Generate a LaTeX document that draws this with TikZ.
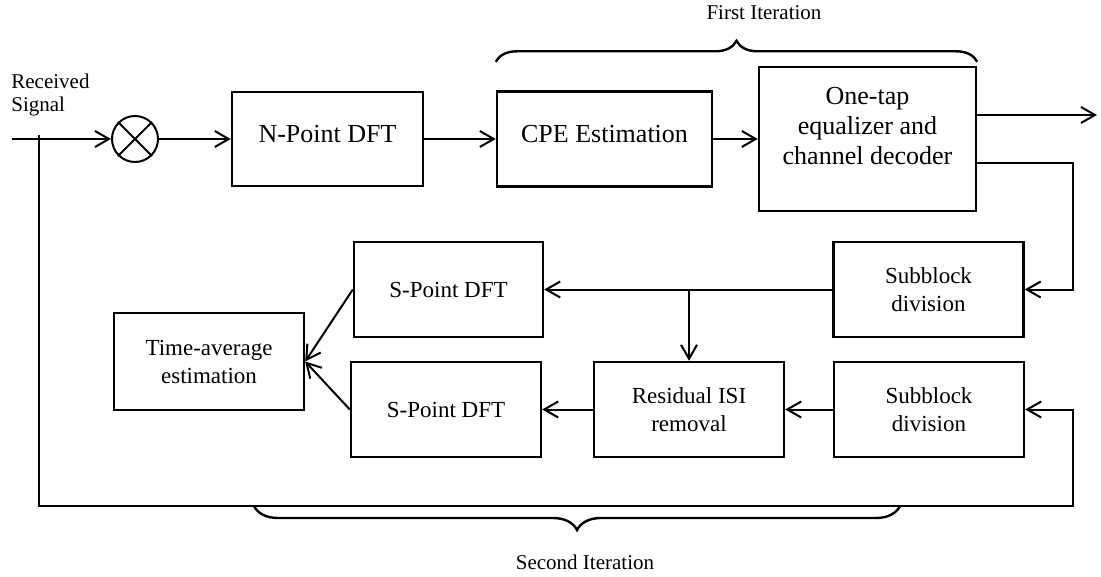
\documentclass[tikz,border=0pt]{standalone}
\usepackage{fontspec}
\setmainfont{Liberation Serif}
\usetikzlibrary{arrows.meta, positioning, calc, decorations.pathreplacing}
\newcommand{\mainfs}{\fontsize{13}{15}\selectfont}
\newcommand{\boxfs}{\fontsize{11.5}{14}\selectfont}
\newcommand{\labfs}{\fontsize{10.5}{11.5}\selectfont}

\begin{document}
\begin{tikzpicture}[x=0.5pt, y=-0.5pt,
    blk/.style={draw, line width=1.2pt, inner sep=0pt, align=center, font=\boxfs,
        minimum width=95pt, minimum height=47.5pt},
    topblk/.style={blk, font=\mainfs, text depth=5pt},
    link/.style={line width=1pt, -{Straight Barb[length=7pt,width=8pt]}},
    brc/.style={line width=1.2pt, decorate, decoration={brace, amplitude=#1}}]
    \useasboundingbox (0,0) rectangle (1101,577);

    % Forward path
    \node[draw, circle, line width=1pt, minimum size=23pt, inner sep=0pt] (mix) at (135,139) {};
    \draw[line width=1pt] (mix.north east) -- (mix.south west);
    \draw[line width=1pt] (mix.north west) -- (mix.south east);
    \node[topblk, minimum width=95.5pt, minimum height=47pt] (npt) at (327.5,139) {N-Point DFT};
    \node[topblk, minimum width=107.5pt] (cpe) at (604.5,139) {CPE Estimation};
    \node[topblk, minimum width=108.5pt, minimum height=72pt, text depth=13pt] (eq) at (867.5,139)
        {One-tap\\equalizer and\\channel decoder};

    % Second iteration blocks
    \node[blk] (sub1) at (928.5,289.5) {Subblock\\division};
    \node[blk] (sub2) at (929,409.5) {Subblock\\division};
    \node[blk, minimum width=94.5pt] (sdft1) at (448.5,289.5) {S-Point DFT};
    \node[blk] (sdft2) at (446,409.5) {S-Point DFT};
    \node[blk] (isi) at (689,409.5) {Residual ISI\\removal};
    \node[blk, minimum height=48.5pt] (tavg) at (209,361.5) {Time-average\\estimation};

    % Labels
    \node[anchor=north west, align=left, inner sep=0pt, font=\labfs] (rxlab) at (11,74) {Received\\Signal};
    \node[font=\labfs, inner sep=0pt] (it1) at (764,13) {First Iteration};
    \node[font=\labfs, inner sep=0pt] (it2) at (585,562) {Second Iteration};

    % Connectors
    \coordinate (rxin) at (12,139);
    \coordinate (out) at (1097,115);
    \coordinate (fbtop) at (1073,163);
    \coordinate (tap) at (39,135);
    \coordinate (loopc) at (1073,506);
    \coordinate (split) at (isi.north |- sub1.west);
    \draw[link] (rxin) -- (mix);
    \draw[link] (mix) -- (npt);
    \draw[link] (npt) -- (cpe);
    \draw[link] (cpe) -- (eq);
    \draw[link] (eq.east |- out) -- (out);
    \draw[link] (eq.east |- fbtop) -- (fbtop) |- (sub1);
    \draw[link] (sub1) -- (sdft1);
    \draw[link] (split) -- (isi.north);
    \draw[link] (sub2) -- (isi);
    \draw[link] (isi) -- (sdft2);
    \draw[link] (sdft1.west) -- (tavg.east);
    \draw[link] (sdft2.west) -- (tavg.east);
    \draw[link] (tap) |- (loopc) |- (sub2);

    % Braces
    \draw[brc=10.5pt] ([yshift=2pt]cpe.west |- eq.north) -- ([yshift=2pt]eq.north east);
    \draw[brc=12pt] (900,506) -- (254,506);
\end{tikzpicture}
\end{document}
